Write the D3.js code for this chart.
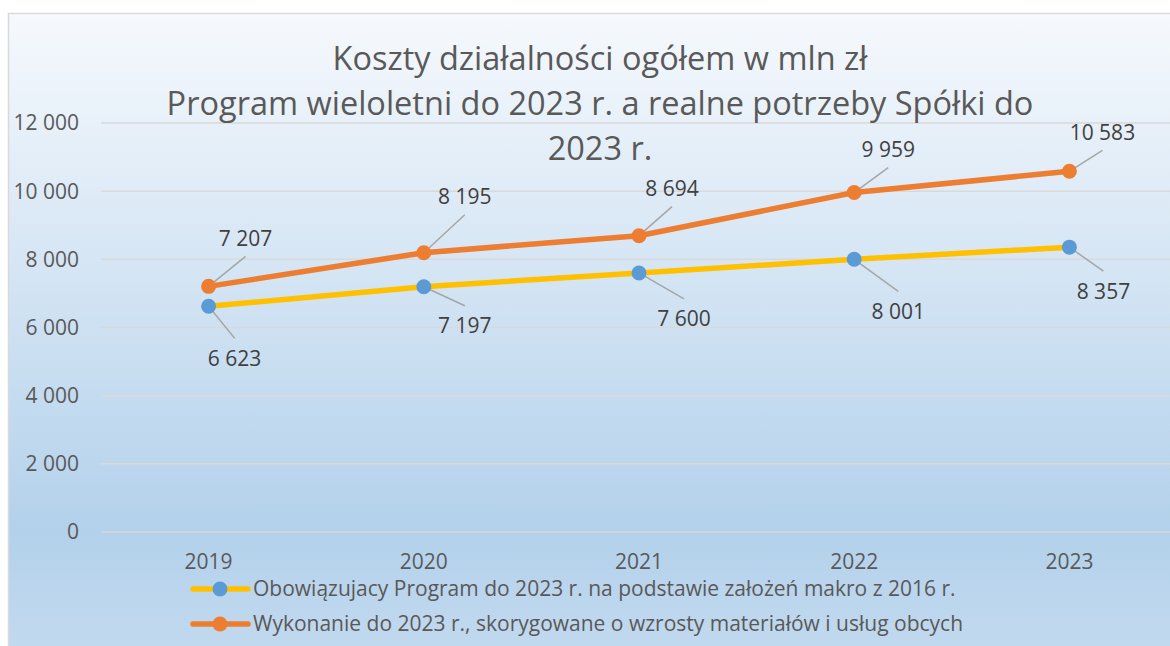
<!DOCTYPE html>
<html lang="pl">
<head>
    <meta charset="UTF-8">
    <title>Koszty działalności ogółem w mln zł</title>
    <script src="https://d3js.org/d3.v7.min.js"></script>
    <style>
        body { margin: 0; background: #fff; font-family: "Open Sans", sans-serif; }
        svg { display: block; }
    </style>
</head>
<body>
    <svg id="chart" width="1170" height="646"></svg>
    <script>
        // Dane
        const years = ["2019", "2020", "2021", "2022", "2023"];
        const programValues = [6623, 7197, 7600, 8001, 8357];
        const actualValues = [7207, 8195, 8694, 9959, 10583];
        const yTicks = [0, 2000, 4000, 6000, 8000, 10000, 12000];
        const titleLines = [
            "Koszty działalności ogółem w mln zł",
            "Program wieloletni do 2023 r. a realne potrzeby Spółki do",
            "2023 r."
        ];
        const seriesNames = [
            "Obowiązujacy Program do 2023 r. na podstawie założeń makro z 2016 r.",
            "Wykonanie do 2023 r., skorygowane o wzrosty materiałów i usług obcych"
        ];

        // przesunięcia etykiet (styl)
        const actualNudge = [[37, -48], [41, -56], [33, -47], [34, -43], [33, -39]];
        const programNudge = [[26, 52], [41, 39], [45, 46], [44, 52], [34, 44]];

        const svg = d3.select("#chart");
        const W = 1170, H = 646;

        const defs = svg.append("defs");
        const grad = defs.append("linearGradient").attr("id", "bg")
            .attr("x1", 0).attr("y1", 0).attr("x2", 0).attr("y2", 1);
        grad.append("stop").attr("offset", "0%").attr("stop-color", "#f6f9fd");
        grad.append("stop").attr("offset", "80%").attr("stop-color", "#b3d1eb");
        grad.append("stop").attr("offset", "100%").attr("stop-color", "#c3daef");

        svg.append("rect").attr("x", 8.5).attr("y", 13.5)
            .attr("width", W).attr("height", H)
            .attr("fill", "url(#bg)").attr("stroke", "#d9d9d9").attr("stroke-width", 1.5);

        const x = d3.scalePoint().domain(years).range([101, 1177]).padding(0.5);
        const y = d3.scaleLinear().domain([0, 12000]).range([532, 123]);
        const fmt = v => d3.format(",")(v).replace(/,/g, " ");

        // siatka
        svg.append("g").selectAll("line").data(yTicks).join("line")
            .attr("x1", 101).attr("x2", W)
            .attr("y1", d => y(d)).attr("y2", d => y(d))
            .attr("stroke", "#d9d9d9").attr("stroke-width", 1.5);

        // oś Y
        svg.append("g").selectAll("text").data(yTicks).join("text")
            .attr("x", 79).attr("y", d => y(d)).attr("dy", "0.35em")
            .attr("text-anchor", "end").attr("font-size", 21).attr("fill", "#595959")
            .text(fmt);

        // oś X
        svg.append("g").selectAll("text").data(years).join("text")
            .attr("x", d => x(d)).attr("y", 562).attr("dy", "0.35em")
            .attr("text-anchor", "middle").attr("font-size", 21).attr("fill", "#595959")
            .text(d => d);

        // tytuł
        svg.append("g").selectAll("text").data(titleLines).join("text")
            .attr("x", 600).attr("y", (d, i) => 59 + i * 45).attr("dy", "0.35em")
            .attr("text-anchor", "middle").attr("font-size", 32.5).attr("fill", "#595959")
            .text(d => d);

        const series = [
            { values: programValues, line: "#ffc000", dot: "#5b9bd5", nudge: programNudge },
            { values: actualValues, line: "#ed7d31", dot: "#ed7d31", nudge: actualNudge }
        ];

        const lineGen = d3.line().x((d, i) => x(years[i])).y(d => y(d));

        series.forEach(s => {
            svg.append("path").datum(s.values)
                .attr("d", lineGen).attr("fill", "none")
                .attr("stroke", s.line).attr("stroke-width", 5.5)
                .attr("stroke-linejoin", "round").attr("stroke-linecap", "round");
        });

        series.forEach(s => {
            const g = svg.append("g");
            const pts = s.values.map((v, i) => ({ v, i, px: x(years[i]), py: y(v), n: s.nudge[i] }));
            // linie odniesienia
            g.selectAll("line").data(pts).join("line")
                .attr("x1", d => d.px).attr("y1", d => d.py)
                .attr("x2", d => d.px + d.n[0])
                .attr("y2", d => d.py + d.n[1] + (d.n[1] < 0 ? 18 : -20))
                .attr("stroke", "#a6a6a6").attr("stroke-width", 1.5);
            g.selectAll("circle").data(pts).join("circle")
                .attr("cx", d => d.px).attr("cy", d => d.py).attr("r", 7.5)
                .attr("fill", s.dot);
            g.selectAll("text").data(pts).join("text")
                .attr("x", d => d.px + d.n[0]).attr("y", d => d.py + d.n[1]).attr("dy", "0.35em")
                .attr("text-anchor", "middle").attr("font-size", 21).attr("fill", "#404040")
                .text(d => fmt(d.v));
        });

        // legenda
        const legend = svg.append("g").selectAll("g").data(series).join("g")
            .attr("transform", (d, i) => `translate(0,${589 + i * 35})`);
        legend.append("line").attr("x1", 193).attr("x2", 248)
            .attr("stroke", d => d.line).attr("stroke-width", 5.5).attr("stroke-linecap", "round");
        legend.append("circle").attr("cx", 220).attr("r", 7.5).attr("fill", d => d.dot);
        legend.append("text").attr("x", 253).attr("dy", "0.35em")
            .attr("font-size", 21).attr("fill", "#595959")
            .text((d, i) => seriesNames[i]);
    </script>
</body>
</html>
